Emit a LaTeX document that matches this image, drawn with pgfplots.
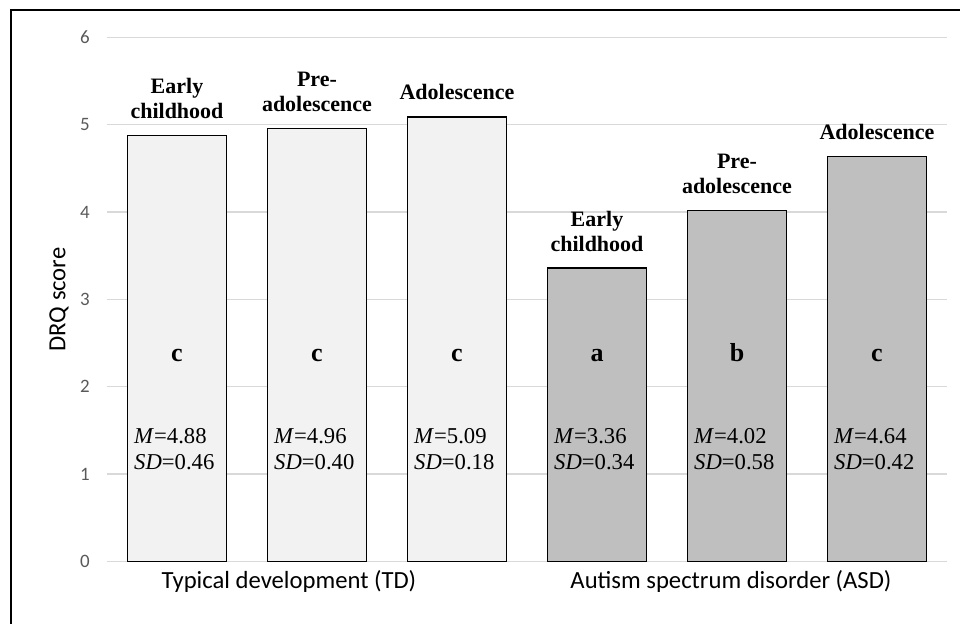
\documentclass[border=0pt]{standalone}
\usepackage{pgfplots}
\pgfplotsset{compat=1.18}
\usepackage{fontspec}
\setmainfont{Liberation Serif}
\newfontfamily\calibri{Carlito}
\definecolor{tdfill}{HTML}{F2F2F2}
\definecolor{asdfill}{HTML}{BFBFBF}
\definecolor{gridc}{HTML}{D9D9D9}
\definecolor{tickc}{HTML}{595959}
\newcommand{\labfont}{\bfseries\fontsize{16.5}{18}\selectfont}
\newcommand{\letfont}{\bfseries\fontsize{19.5}{22}\selectfont}
\newcommand{\msfont}{\fontsize{17}{20}\selectfont}
\begin{document}
\begin{tikzpicture}
\useasboundingbox (-80.25pt,-46.875pt) rectangle (639.75pt,421.125pt);
\draw[line width=1.5pt] (-72pt,-50pt) -- (-72pt,413.6pt) -- (645pt,413.6pt);
\begin{axis}[
  at={(0,0)}, anchor=south west,
  scale only axis, width=630pt, height=393pt,
  xmin=-0.5, xmax=5.5, ymin=0, ymax=6,
  ytick={0,1,2,3,4,5,6}, xtick=\empty,
  ymajorgrids, grid style={gridc, line width=1pt},
  axis line style={draw=none},
  major tick length=0pt,
  yticklabel style={font=\calibri\fontsize{14.2}{16}\selectfont, text=tickc, inner sep=0pt, xshift=-12.75pt},
  /pgf/number format/assume math mode=true,
  ylabel={DRQ score},
  ylabel style={font=\calibri\fontsize{18.5}{22}\selectfont, at={(axis description cs:-0.057,0.5)}, anchor=center},
  bar width=74.5pt,
  clip=false,
]
\addplot[ybar, bar shift=0pt, fill=tdfill, draw=black, line width=1pt] coordinates {(0,4.88) (1,4.96) (2,5.09)};
\addplot[ybar, bar shift=0pt, fill=asdfill, draw=black, line width=1pt] coordinates {(3,3.36) (4,4.02) (5,4.64)};

% labels above bars
\node[font=\labfont, anchor=base, yshift=31.5pt] at (axis cs:0,4.88) {Early};
\node[font=\labfont, anchor=base, yshift=12.75pt] at (axis cs:0,4.88) {childhood};
\node[font=\labfont, anchor=base, yshift=31.5pt] at (axis cs:1,4.96) {Pre-};
\node[font=\labfont, anchor=base, yshift=12.75pt] at (axis cs:1,4.96) {adolescence};
\node[font=\labfont, anchor=base, yshift=12.75pt] at (axis cs:2,5.09) {Adolescence};
\node[font=\labfont, anchor=base, yshift=31.5pt] at (axis cs:3,3.36) {Early};
\node[font=\labfont, anchor=base, yshift=12.75pt] at (axis cs:3,3.36) {childhood};
\node[font=\labfont, anchor=base, yshift=31.5pt] at (axis cs:4,4.02) {Pre-};
\node[font=\labfont, anchor=base, yshift=12.75pt] at (axis cs:4,4.02) {adolescence};
\node[font=\labfont, anchor=base, yshift=12.75pt] at (axis cs:5,4.64) {Adolescence};

% letters
\node[font=\letfont, anchor=base] at (axis cs:0,2.29) {c};
\node[font=\letfont, anchor=base] at (axis cs:1,2.29) {c};
\node[font=\letfont, anchor=base] at (axis cs:2,2.29) {c};
\node[font=\letfont, anchor=base] at (axis cs:3,2.29) {a};
\node[font=\letfont, anchor=base] at (axis cs:4,2.29) {b};
\node[font=\letfont, anchor=base] at (axis cs:5,2.29) {c};

% M and SD
\node[font=\msfont, anchor=base west, inner sep=0pt, xshift=5pt] at (axis cs:-0.355,1.354) {\textit{M}=4.88};
\node[font=\msfont, anchor=base west, inner sep=0pt, xshift=5pt] at (axis cs:-0.355,1.048) {\textit{SD}=0.46};
\node[font=\msfont, anchor=base west, inner sep=0pt, xshift=5pt] at (axis cs:0.645,1.354) {\textit{M}=4.96};
\node[font=\msfont, anchor=base west, inner sep=0pt, xshift=5pt] at (axis cs:0.645,1.048) {\textit{SD}=0.40};
\node[font=\msfont, anchor=base west, inner sep=0pt, xshift=5pt] at (axis cs:1.645,1.354) {\textit{M}=5.09};
\node[font=\msfont, anchor=base west, inner sep=0pt, xshift=5pt] at (axis cs:1.645,1.048) {\textit{SD}=0.18};
\node[font=\msfont, anchor=base west, inner sep=0pt, xshift=5pt] at (axis cs:2.645,1.354) {\textit{M}=3.36};
\node[font=\msfont, anchor=base west, inner sep=0pt, xshift=5pt] at (axis cs:2.645,1.048) {\textit{SD}=0.34};
\node[font=\msfont, anchor=base west, inner sep=0pt, xshift=5pt] at (axis cs:3.645,1.354) {\textit{M}=4.02};
\node[font=\msfont, anchor=base west, inner sep=0pt, xshift=5pt] at (axis cs:3.645,1.048) {\textit{SD}=0.58};
\node[font=\msfont, anchor=base west, inner sep=0pt, xshift=5pt] at (axis cs:4.645,1.354) {\textit{M}=4.64};
\node[font=\msfont, anchor=base west, inner sep=0pt, xshift=5pt] at (axis cs:4.645,1.048) {\textit{SD}=0.42};

% group labels
\node[font=\calibri\fontsize{18.5}{22}\selectfont, anchor=base] at (axis cs:0.8,-0.307) {Typical development (TD)};
\node[font=\calibri\fontsize{18.5}{22}\selectfont, anchor=base] at (axis cs:3.957,-0.307) {Autism spectrum disorder (ASD)};
\end{axis}
\end{tikzpicture}
\end{document}
